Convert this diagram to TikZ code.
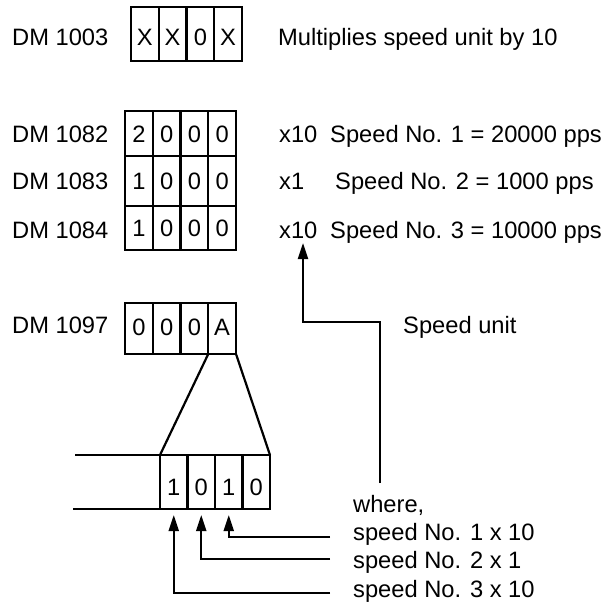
\documentclass[tikz,border=0pt]{standalone}
\usepackage{fontspec}
\setmainfont{Liberation Sans}
\usetikzlibrary{arrows.meta}
\tikzset{
  lbl/.style={inner sep=0pt, anchor=base west, font=\fontsize{23.7}{28.4}\selectfont},
  cell/.style={draw, line width=2.2pt, inner sep=0pt, outer sep=0pt, anchor=north west, minimum width=27.75pt,
    text height=17pt, text depth=0pt, font=\fontsize{23.7}{28.4}\selectfont},
  ln/.style={line width=2.2pt},
  arr/.style={line width=2.2pt, -{Triangle[length=16pt,width=10pt]}}
}
\begin{document}
\begin{tikzpicture}[x=1pt,y=-1pt]
\useasboundingbox (0,0) rectangle (607,606);
% DM 1003
\node[lbl] (l1003) at (12,45) {DM 1003};
\foreach \t [count=\i] in {X,X,0,X}{
  \node[cell, minimum height=54pt, text height=22pt] (a\i) at (131+27.75*\i-27.75,7) {\t};
}
\node[lbl] (mult) at (278,45) {Multiplies speed unit by 10};
% DM 1082
\node[lbl] (l1082) at (12,142) {DM 1082};
\foreach \t [count=\i] in {2,0,0,0}{
  \node[cell, minimum height=45pt] (b\i) at (125+27.75*\i-27.75,111) {\t};
}
\node[lbl] (m1) at (279,142) {x10};
\node[lbl] (s1) at (330,142) {Speed No. 1 = 20000 pps};
% DM 1083
\node[lbl] (l1083) at (12,189) {DM 1083};
\foreach \t [count=\i] in {1,0,0,0}{
  \node[cell, minimum height=50pt] (c\i) at (125+27.75*\i-27.75,156) {\t};
}
\node[lbl] (m2) at (279,189) {x1};
\node[lbl] (s2) at (335,189) {Speed No. 2 = 1000 pps};
% DM 1084
\node[lbl] (l1084) at (12,238) {DM 1084};
\foreach \t [count=\i] in {1,0,0,0}{
  \node[cell, minimum height=44pt] (f\i) at (125+27.75*\i-27.75,206) {\t};
}
\node[lbl] (m3) at (279,238) {x10};
\node[lbl] (s3) at (330,238) {Speed No. 3 = 10000 pps};
% DM 1097
\node[lbl] (l1097) at (12,333) {DM 1097};
\foreach \t [count=\i] in {0,0,0,A}{
  \node[cell, minimum height=51pt, text height=14pt] (d\i) at (125+27.75*\i-27.75,303) {\t};
}
% lower box
\foreach \t [count=\i] in {1,0,1,0}{
  \node[cell, minimum width=27.5pt, minimum height=54pt, text height=27pt] (e\i) at (160+27.5*\i-27.5,455) {\t};
}
\draw[ln] (d4.south west) -- (e1.north west);
\draw[ln] (d4.south east) -- (e4.north east);
\coordinate (t1) at (75,455);
\coordinate (t2) at (73,509);
\draw[ln] (t1) -- (e1.north west);
\draw[ln] (t2) -- (e1.south west);
% speed unit
\node[lbl] (su) at (403,333) {Speed unit};
\coordinate (sustart) at (380,483);
\coordinate (sutip) at (303,243);
\draw[arr] (sustart) |- (303,322) -- (sutip);
% where
\node[lbl] (wh) at (353,512) {where,};
\node[lbl] (w1) at (353,540) {speed No. 1 x 10};
\node[lbl] (w2) at (353,568) {speed No. 2 x 1};
\node[lbl] (w3) at (353,597) {speed No. 3 x 10};
\coordinate (r1) at (330,537);
\coordinate (r2) at (330,559);
\coordinate (r3) at (330,593);
\draw[arr] (r1) -| ([yshift=-6pt]e3.south);
\draw[arr] (r2) -| ([yshift=-6pt]e2.south);
\draw[arr] (r3) -| ([yshift=-6pt]e1.south);
\end{tikzpicture}
\end{document}
